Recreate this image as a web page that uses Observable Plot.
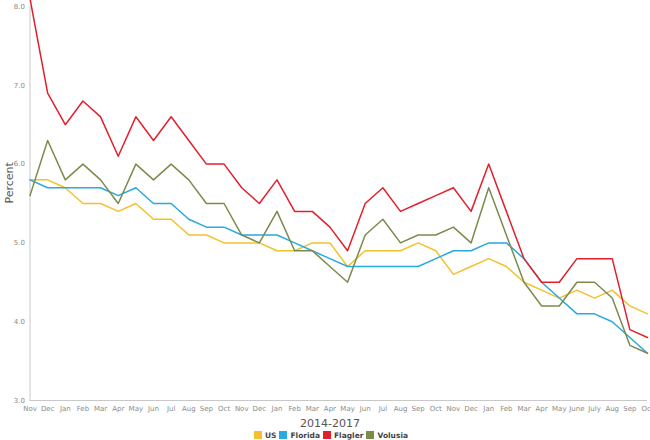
<!DOCTYPE html>
<html>
<head>
<meta charset="utf-8">
<script src="https://cdn.jsdelivr.net/npm/d3@7"></script>
<script src="https://cdn.jsdelivr.net/npm/@observablehq/plot@0.6"></script>
<style>
  html, body { margin: 0; padding: 0; background: #fff; }
  body { width: 650px; height: 440px; overflow: hidden; font-family: "DejaVu Sans", Verdana, sans-serif; }
  #chart svg { display: block; }
  #xtitle { text-align: center; font-size: 11px; color: #555; line-height: 13px; height: 13px; margin-top: 1px; padding-left: 10px; }
  #legend { display: flex; justify-content: center; align-items: center; gap: 3px; font-size: 7.5px; font-weight: bold; color: #444; height: 10px; padding-left: 12px; }
  #legend .item { display: flex; align-items: center; gap: 3px; }
  #legend .sw { width: 8px; height: 8px; display: inline-block; }
</style>
</head>
<body>
<div id="chart"></div>
<div id="xtitle">2014-2017</div>
<div id="legend"></div>
<script>
const months = ["Nov","Dec","Jan","Feb","Mar","Apr","May","Jun","Jul","Aug","Sep","Oct",
                "Nov","Dec","Jan","Feb","Mar","Apr","May","Jun","Jul","Aug","Sep","Oct",
                "Nov","Dec","Jan","Feb","Mar","Apr","May","June","July","Aug","Sep","Oct"];
const seriesNames = ["US", "Florida", "Flagler", "Volusia"];
const seriesColors = ["#f4c12c", "#27a9e1", "#e2202c", "#7b8b4c"];
const us      = [5.8,5.8,5.7,5.5,5.5,5.4,5.5,5.3,5.3,5.1,5.1,5.0, 5.0,5.0,4.9,4.9,5.0,5.0,4.7,4.9,4.9,4.9,5.0,4.9, 4.6,4.7,4.8,4.7,4.5,4.4,4.3,4.4,4.3,4.4,4.2,4.1];
const florida = [5.8,5.7,5.7,5.7,5.7,5.6,5.7,5.5,5.5,5.3,5.2,5.2, 5.1,5.1,5.1,5.0,4.9,4.8,4.7,4.7,4.7,4.7,4.7,4.8, 4.9,4.9,5.0,5.0,4.8,4.5,4.3,4.1,4.1,4.0,3.8,3.6];
const flagler = [8.1,6.9,6.5,6.8,6.6,6.1,6.6,6.3,6.6,6.3,6.0,6.0, 5.7,5.5,5.8,5.4,5.4,5.2,4.9,5.5,5.7,5.4,5.5,5.6, 5.7,5.4,6.0,5.4,4.8,4.5,4.5,4.8,4.8,4.8,3.9,3.8];
const volusia = [5.6,6.3,5.8,6.0,5.8,5.5,6.0,5.8,6.0,5.8,5.5,5.5, 5.1,5.0,5.4,4.9,4.9,4.7,4.5,5.1,5.3,5.0,5.1,5.1, 5.2,5.0,5.7,5.1,4.5,4.2,4.2,4.5,4.5,4.3,3.7,3.6];
const yTicks = [3, 4, 5, 6, 7, 8];

const allSeries = [us, florida, flagler, volusia];
const data = [];
allSeries.forEach((vals, s) => vals.forEach((v, i) => data.push({i, v, series: seriesNames[s]})));

const font = "'DejaVu Sans', Verdana, sans-serif";
const chart = Plot.plot({
  width: 650,
  height: 416,
  marginLeft: 29.5,
  marginRight: 3,
  marginTop: 6,
  marginBottom: 16,
  style: {fontFamily: font, background: "#fff"},
  x: {domain: [0, months.length - 1], axis: null},
  y: {domain: [3, 8], axis: null},
  color: {domain: seriesNames, range: seriesColors},
  marks: [
    Plot.ruleY([3], {stroke: "#c8c8c8", strokeWidth: 1}),
    Plot.ruleX([0], {stroke: "#c8c8c8", strokeWidth: 1}),
    Plot.axisX(d3.range(months.length), {tickSize: 0, tickPadding: 6, tickFormat: i => months[i], fontSize: 7, fill: "#8a8a8a", label: null}),
    Plot.axisY(yTicks, {tickSize: 0, tickPadding: 5, tickFormat: d => d.toFixed(1), fontSize: 7, fill: "#8a8a8a", label: null}),
    Plot.text(["Percent"], {frameAnchor: "left", dx: -21, rotate: -90, fontSize: 11, fill: "#555"}),
    Plot.line(data, {x: "i", y: "v", z: "series", stroke: "series", strokeWidth: 1.5, curve: "linear"})
  ]
});
document.getElementById("chart").appendChild(chart);

const legend = document.getElementById("legend");
seriesNames.forEach((n, k) => {
  const item = document.createElement("span");
  item.className = "item";
  const sw = document.createElement("span");
  sw.className = "sw";
  sw.style.background = seriesColors[k];
  item.appendChild(sw);
  item.appendChild(document.createTextNode(n));
  legend.appendChild(item);
});
</script>
</body>
</html>
